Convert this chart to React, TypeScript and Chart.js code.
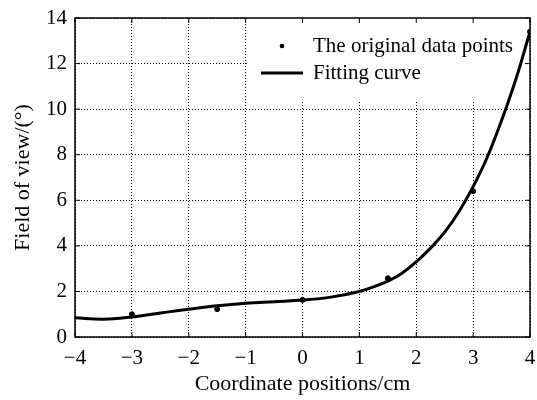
import React, { useEffect, useRef } from "react";
import { Chart, registerables } from "chart.js";

Chart.register(...registerables);

// Measured positions (cm) and field of view (degrees)
const measuredX = [-3, -1.5, 0, 1.5, 3, 4];
const measuredY = [1.0, 1.22, 1.63, 2.58, 6.4, 13.4];

// Fitted curve sampled along the axis
const fitX = [-4, -3.5, -3, -2.5, -2, -1.5, -1, -0.5, 0, 0.5, 1, 1.25, 1.5, 1.75, 2, 2.25, 2.5, 2.75, 3, 3.25, 3.5, 3.75, 4];
const fitY = [0.84, 0.78, 0.88, 1.05, 1.22, 1.37, 1.48, 1.55, 1.62, 1.75, 2.0, 2.2, 2.45, 2.8, 3.3, 3.9, 4.6, 5.5, 6.6, 7.9, 9.5, 11.3, 13.4];

const xTicks = [-4, -3, -2, -1, 0, 1, 2, 3, 4];
const yTicks = [0, 2, 4, 6, 8, 10, 12, 14];

const FONT = "'Liberation Serif', 'Times New Roman', serif";

const minus = (v: number) => (v < 0 ? "\u2212" + Math.abs(v) : String(v));

// White legend panel (under the data), frame, edge ticks and legend entries
const framePlugin = {
  id: "frameAndLegend",
  beforeDatasetsDraw(chart: any) {
    const { ctx, chartArea } = chart;
    const xs = chart.scales.x;
    ctx.save();
    ctx.fillStyle = "#fff";
    const x0 = xs.getPixelForValue(-1) + 2;
    ctx.fillRect(x0, chartArea.top, chartArea.right - x0, 82);
    ctx.restore();
  },
  afterDraw(chart: any) {
    const { ctx, chartArea } = chart;
    const { left, top, right, bottom } = chartArea;
    ctx.save();
    ctx.strokeStyle = "#000";
    ctx.lineWidth = 1.5;
    ctx.strokeRect(left, top, right - left, bottom - top);

    const xs = chart.scales.x;
    const ys = chart.scales.y;
    ctx.lineWidth = 1;
    xTicks.forEach((t) => {
      const px = xs.getPixelForValue(t);
      ctx.beginPath();
      ctx.moveTo(px, top);
      ctx.lineTo(px, top + 5);
      ctx.moveTo(px, bottom);
      ctx.lineTo(px, bottom - 5);
      ctx.stroke();
    });
    yTicks.forEach((t) => {
      const py = ys.getPixelForValue(t);
      ctx.beginPath();
      ctx.moveTo(right, py);
      ctx.lineTo(right - 5, py);
      ctx.moveTo(left, py);
      ctx.lineTo(left + 5, py);
      ctx.stroke();
    });

    // legend entries
    const ds = chart.data.datasets;
    const textX = 313;
    ctx.fillStyle = "#000";
    ctx.font = `21px ${FONT}`;
    ctx.textBaseline = "middle";
    ctx.textAlign = "left";
    ctx.beginPath();
    ctx.arc(282, 46, 2.3, 0, Math.PI * 2);
    ctx.fill();
    ctx.fillText(ds[0].label, textX, 46);
    ctx.lineWidth = 3;
    ctx.beginPath();
    ctx.moveTo(261, 73);
    ctx.lineTo(303, 73);
    ctx.stroke();
    ctx.fillText(ds[1].label, textX, 73);
    ctx.restore();
  },
};

export default function App() {
  const ref = useRef<HTMLCanvasElement>(null);

  useEffect(() => {
    document.body.style.margin = "0";
    const canvas = ref.current!;
    const dotted = {
      color: "#000",
      lineWidth: 1,
      drawTicks: false,
      borderDash: [1, 2],
    };
    const chart = new Chart(canvas, {
      type: "scatter",
      data: {
        datasets: [
          {
            label: "The original data points",
            data: measuredX.map((x, i) => ({ x, y: measuredY[i] })),
            backgroundColor: "#000",
            borderColor: "#000",
            pointRadius: 2.5,
            showLine: false,
            order: 0,
          },
          {
            label: "Fitting curve",
            data: fitX.map((x, i) => ({ x, y: fitY[i] })),
            borderColor: "#000",
            borderWidth: 3,
            pointRadius: 0,
            showLine: true,
            tension: 0.4,
            order: 1,
          },
        ],
      },
      plugins: [framePlugin],
      options: {
        animation: false,
        responsive: false,
        layout: { padding: { left: 0, right: 7, top: 18, bottom: 0 } },
        plugins: { legend: { display: false }, tooltip: { enabled: false } },
        scales: {
          x: {
            type: "linear",
            min: -4,
            max: 4,
            afterBuildTicks: (s: any) => {
              s.ticks = xTicks.map((v) => ({ value: v }));
            },
            afterFit: (s: any) => {
              s.height = 63;
              s.paddingLeft = 0;
              s.paddingRight = 0;
            },
            border: { display: false, dash: [1, 2] },
            grid: dotted,
            ticks: {
              color: "#000",
              font: { family: FONT, size: 21 },
              padding: 9,
              callback: (v: any) => minus(Number(v)),
            },
            title: {
              display: true,
              text: "Coordinate positions/cm",
              color: "#000",
              font: { family: FONT, size: 22 },
              padding: { top: 4, bottom: 3 },
            },
          },
          y: {
            type: "linear",
            min: 0,
            max: 14,
            afterBuildTicks: (s: any) => {
              s.ticks = yTicks.map((v) => ({ value: v }));
            },
            afterFit: (s: any) => {
              s.width = 75;
              s.paddingTop = 0;
              s.paddingBottom = 0;
            },
            border: { display: false, dash: [1, 2] },
            grid: dotted,
            ticks: {
              color: "#000",
              font: { family: FONT, size: 21 },
              padding: 8,
            },
            title: {
              display: true,
              text: "Field of view/(\u00b0)",
              color: "#000",
              font: { family: FONT, size: 22 },
              padding: { top: 10, bottom: 4 },
            },
          },
        },
      },
    } as any);

    return () => chart.destroy();
  }, []);

  return <canvas ref={ref} width={537} height={400} style={{ display: "block" }} />;
}
